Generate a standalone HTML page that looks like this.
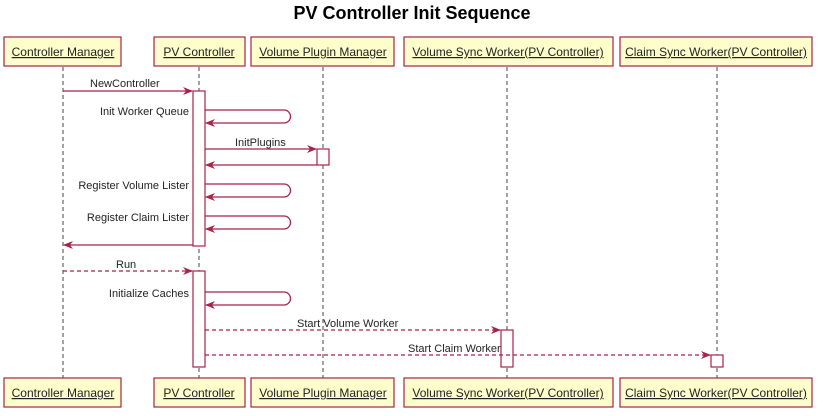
<!DOCTYPE html>
<html><head><style>
body{margin:0;background:#fff;width:825px;height:411px;overflow:hidden}
svg text{font-family:"Liberation Sans",sans-serif}
</style></head><body>
<svg width="825" height="411" xmlns="http://www.w3.org/2000/svg">
<defs><marker id="a" markerWidth="10" markerHeight="8" refX="9" refY="4" orient="auto" markerUnits="userSpaceOnUse"><path d="M0,0 L10,4 L0,8 L3,4z" fill="#a8224a"/></marker></defs>
<text x="412" y="19" text-anchor="middle" font-size="18" font-weight="bold">PV Controller Init Sequence</text>
<g stroke="#444" stroke-dasharray="4,3" stroke-width="1">
<line x1="63" y1="67" x2="63" y2="378"/><line x1="199" y1="67" x2="199" y2="378"/><line x1="323" y1="67" x2="323" y2="378"/><line x1="507" y1="67" x2="507" y2="378"/><line x1="717" y1="67" x2="717" y2="378"/>
</g>
<g fill="#fefecd" stroke="#a8224a" stroke-width="1.2">
<rect x="4" y="37" width="117" height="29"/><rect x="154" y="37" width="91" height="29"/><rect x="251" y="37" width="143" height="29"/><rect x="404" y="37" width="209" height="29"/><rect x="620" y="37" width="192" height="29"/>
<rect x="4" y="378" width="117" height="29"/><rect x="154" y="378" width="91" height="29"/><rect x="251" y="378" width="143" height="29"/><rect x="404" y="378" width="209" height="29"/><rect x="620" y="378" width="192" height="29"/>
</g>
<g font-size="12" text-anchor="middle" text-decoration="underline" fill="#222">
<text x="63" y="56">Controller Manager</text><text x="199" y="56">PV Controller</text><text x="323" y="56">Volume Plugin Manager</text><text x="508" y="56">Volume Sync Worker(PV Controller)</text><text x="716" y="56">Claim Sync Worker(PV Controller)</text>
<text x="63" y="397">Controller Manager</text><text x="199" y="397">PV Controller</text><text x="323" y="397">Volume Plugin Manager</text><text x="508" y="397">Volume Sync Worker(PV Controller)</text><text x="716" y="397">Claim Sync Worker(PV Controller)</text>
</g>
<g fill="#fff" stroke="#a8224a" stroke-width="1.2">
<rect x="193" y="91" width="12" height="155"/><rect x="317" y="149" width="12" height="16"/>
<rect x="193" y="271" width="12" height="96"/><rect x="501" y="330" width="12" height="37"/><rect x="711" y="355" width="12" height="12"/>
</g>
<g stroke="#a8224a" stroke-width="1.3" fill="none" marker-end="url(#a)">
<line x1="63" y1="91" x2="192" y2="91"/>
<path d="M205,110 H284 A6.5,6.5 0 0 1 284,123 H206"/>
<line x1="205" y1="149" x2="316" y2="149"/>
<line x1="317" y1="165" x2="206" y2="165"/>
<path d="M205,184 H284 A6.5,6.5 0 0 1 284,197 H206"/>
<path d="M205,216 H284 A6.5,6.5 0 0 1 284,229 H206"/>
<line x1="193" y1="245" x2="64" y2="245"/>
<line x1="63" y1="271" x2="192" y2="271" stroke-dasharray="4,3"/>
<path d="M205,292 H284 A6.5,6.5 0 0 1 284,305 H206"/>
<line x1="205" y1="330" x2="500" y2="330" stroke-dasharray="4,3"/>
<line x1="205" y1="355" x2="710" y2="355" stroke-dasharray="4,3"/>
</g>
<g font-size="11" fill="#222">
<text x="90" y="87">NewController</text>
<text x="189" y="115" text-anchor="end">Init Worker Queue</text>
<text x="235" y="146">InitPlugins</text>
<text x="189" y="189" text-anchor="end">Register Volume Lister</text>
<text x="189" y="221" text-anchor="end">Register Claim Lister</text>
<text x="116" y="268">Run</text>
<text x="189" y="297" text-anchor="end">Initialize Caches</text>
<text x="297" y="327">Start Volume Worker</text>
<text x="408" y="352">Start Claim Worker</text>
</g>
</svg>
</body></html>
